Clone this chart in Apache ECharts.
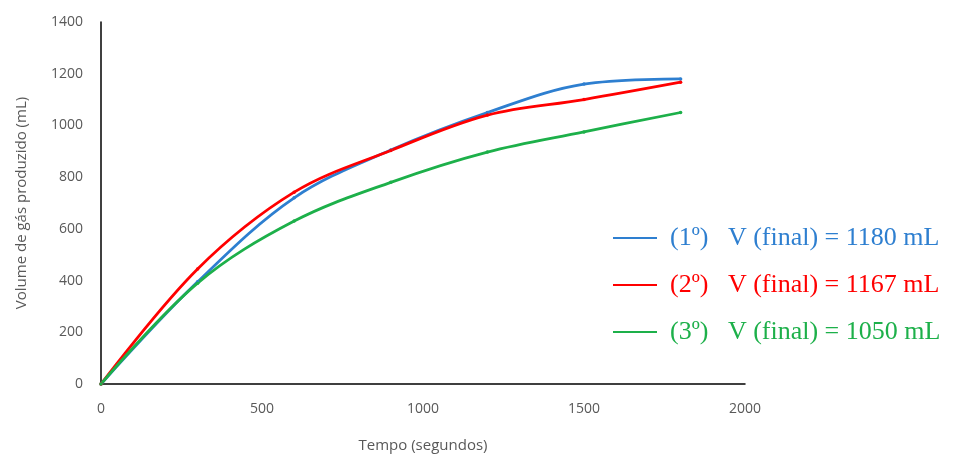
<!DOCTYPE html>
<html><head><meta charset="utf-8">
<script src="https://cdn.jsdelivr.net/npm/echarts@6/dist/echarts.min.js"></script>
<style>html,body{margin:0;padding:0;background:#fff}#c{width:955px;height:458px}</style>
</head><body><div id="c"></div>
<script>
const times = [0, 300, 600, 900, 1200, 1500, 1800];
const run1 = [0, 395, 720, 905, 1050, 1160, 1180];
const run2 = [0, 445, 742, 903, 1040, 1100, 1167];
const run3 = [0, 390, 630, 780, 897, 975, 1050];
const seriesNames = ['(1º)', '(2º)', '(3º)'];
const finalLabels = ['V (final) = 1180 mL', 'V (final) = 1167 mL', 'V (final) = 1050 mL'];
const colors = ['#2E7FD0', '#FF0000', '#1DB04A'];
const xTitle = 'Tempo (segundos)';
const yTitle = 'Volume de gás produzido (mL)';

const runs = [run1, run2, run3];
const chart = echarts.init(document.getElementById('c'));
const axisFont = {color: '#595959', fontSize: 14, fontFamily: 'Open Sans, Liberation Sans, sans-serif'};
chart.setOption({
  animation: false,
  grid: {left: 101, right: 210, top: 22, bottom: 70},
  legend: {
    orient: 'vertical', left: 608, top: 220, itemWidth: 44, itemHeight: 2, itemGap: 21,
    icon: 'rect',
    data: seriesNames.map((n, i) => ({name: n, textStyle: {color: colors[i]}})),
    formatter: function (name) {
      const i = seriesNames.indexOf(name);
      return name + '   ' + finalLabels[i];
    },
    textStyle: {fontSize: 26, fontFamily: 'Liberation Serif, Times New Roman, serif', padding: [0, 0, 0, 8]}
  },
  xAxis: {
    type: 'value', min: 0, max: 2000, interval: 500,
    axisLine: {show: true, lineStyle: {color: '#000', width: 1.5}},
    axisTick: {show: false}, splitLine: {show: false},
    axisLabel: Object.assign({margin: 18, formatter: v => String(v)}, axisFont),
    name: xTitle, nameLocation: 'middle', nameGap: 54,
    nameTextStyle: Object.assign({}, axisFont, {fontSize: 15})
  },
  yAxis: {
    type: 'value', min: 0, max: 1400, interval: 200,
    axisLine: {show: true, lineStyle: {color: '#000', width: 1.5}},
    axisTick: {show: false}, splitLine: {show: false},
    axisLabel: Object.assign({margin: 18, formatter: v => String(v)}, axisFont),
    name: yTitle, nameLocation: 'middle', nameGap: 72, nameRotate: 90,
    nameTextStyle: Object.assign({}, axisFont, {fontSize: 15})
  },
  series: runs.map((r, i) => ({
    name: seriesNames[i], type: 'line', smooth: 0.35,
    data: times.map((t, j) => [t, r[j]]),
    symbol: 'circle', symbolSize: 3.5,
    lineStyle: {color: colors[i], width: 2.8},
    itemStyle: {color: colors[i]}
  }))
});
</script></body></html>
